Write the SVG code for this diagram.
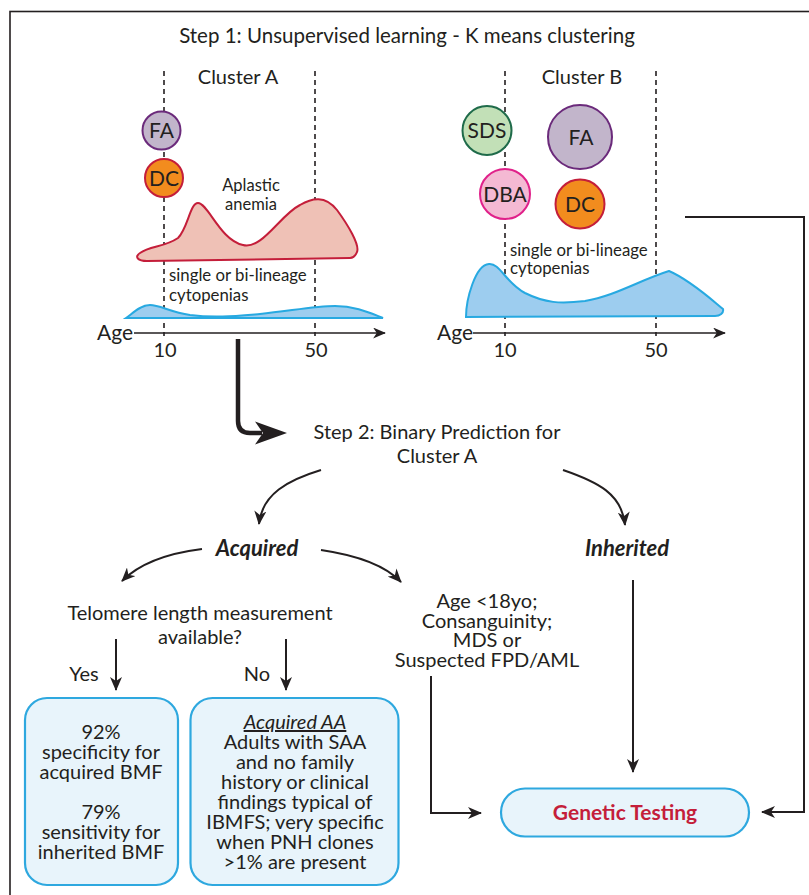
<svg xmlns="http://www.w3.org/2000/svg" width="809" height="895" viewBox="0 0 809 895">
<style>
text{font-family:Lato,"Open Sans","DejaVu Sans",sans-serif;fill:#231f20;text-anchor:middle}
.t20{font-size:20px}
.sm{font-size:16.8px;text-anchor:start}
.bi{font-size:22px;font-weight:bold;font-style:italic}
.dash{stroke:#231f20;stroke-width:1.6;stroke-dasharray:5 4;fill:none}
.axis{stroke:#231f20;stroke-width:1.6;fill:none}
.con{stroke:#231f20;stroke-width:2;fill:none}
.box{fill:#e8f4fb;stroke:#2ea8df;stroke-width:2.2}
.pink{fill:#efc1b6;stroke:#c41e3a;stroke-width:2}
.blue{fill:#9dcdef;stroke:#27a9e1;stroke-width:2}
.fa{fill:#c2b5cb;stroke:#6b2a7b;stroke-width:2}
.dc{fill:#f28c1e;stroke:#c41e3a;stroke-width:2}
.sds{fill:#c2e0b7;stroke:#1f6b4a;stroke-width:2}
.dba{fill:#f4b9d3;stroke:#e0218a;stroke-width:2}
.ct{font-size:21px}
</style>
<defs>
<marker id="ah" markerUnits="userSpaceOnUse" viewBox="0 0 14 12" refX="13" refY="6" markerWidth="14" markerHeight="12" orient="auto">
<path d="M0,0 L14,6 L0,12 L4,6 Z" fill="#231f20"/>
</marker>
<marker id="ax" markerUnits="userSpaceOnUse" viewBox="0 0 14 12" refX="13" refY="6" markerWidth="13" markerHeight="11" orient="auto">
<path d="M0,0 L14,6 L0,12 L4,6 Z" fill="#231f20"/>
</marker>
</defs>
<rect x="10" y="11.5" width="830" height="900" fill="none" stroke="#231f20" stroke-width="1.6"/>
<text x="407" y="43" style="font-size:20.5px">Step 1: Unsupervised learning - K means clustering</text>

<g id="clusterA">
<text class="t20" x="238" y="84">Cluster A</text>
<line class="dash" x1="164" y1="71" x2="164" y2="336"/>
<line class="dash" x1="315" y1="71" x2="315" y2="336"/>
<path class="pink" d="M140,253 C150,246 165,247 178,238 C188,228 190,203 198,203 C208,203 220,240 243,245 C262,250 280,215 300,205 C312,198 325,195 337,210 C348,225 360,245 357,252 C355,257 353,258 350,258 L147,261 C138,261 134,257 140,253 Z"/>
<text x="251" y="191" style="font-size:16.5px">Aplastic</text>
<text x="251" y="210" style="font-size:16.5px">anemia</text>
<text class="sm" x="169" y="281">single or bi-lineage</text>
<text class="sm" x="169" y="301">cytopenias</text>
<path class="blue" d="M126,318 C132,314 140,305 150,305 C160,305 170,312 190,315 C215,318 235,316 260,314 C290,311 315,306 335,306 C355,306 370,313 383,318 Z"/>
<line class="axis" x1="134" y1="333" x2="385" y2="333" marker-end="url(#ax)"/>
<text x="115" y="340" style="font-size:21px">Age</text>
<text class="t20" x="165" y="357">10</text>
<text class="t20" x="316" y="357">50</text>
</g>
<g id="A-FA"><circle class="fa" cx="161.5" cy="130.5" r="19"/><text class="ct" x="161.5" y="138">FA</text></g>
<g id="A-DC"><circle class="dc" cx="164" cy="178" r="19"/><text class="ct" x="164" y="185.5">DC</text></g>

<g id="clusterB">
<text class="t20" x="582" y="84">Cluster B</text>
<line class="dash" x1="505" y1="71" x2="505" y2="336"/>
<line class="dash" x1="656" y1="71" x2="656" y2="336"/>
<text class="sm" x="510" y="256">single or bi-lineage</text>
<text class="sm" x="510" y="274">cytopenias</text>
<path class="blue" d="M466,317 C466,300 475,265 489,264 C500,263 505,282 525,293 C545,303 560,304 585,301 C615,296 640,280 669,271 C690,280 712,300 723,309 C724,313 720,316 715,316 L466,317 Z"/>
<line class="axis" x1="473" y1="333" x2="725" y2="333" marker-end="url(#ax)"/>
<text x="455" y="340" style="font-size:21px">Age</text>
<text class="t20" x="505" y="357">10</text>
<text class="t20" x="656" y="357">50</text>
</g>
<g id="B-SDS"><circle class="sds" cx="487" cy="130.5" r="24.5"/><text class="ct" x="487" y="138">SDS</text></g>
<g id="B-FA"><circle class="fa" cx="580" cy="137" r="32"/><text class="ct" x="581" y="144.5">FA</text></g>
<g id="B-DBA"><circle class="dba" cx="505" cy="194" r="25"/><text class="ct" x="505" y="201.5">DBA</text></g>
<g id="B-DC"><circle class="dc" cx="580" cy="204" r="24.5"/><text class="ct" x="580" y="211.5">DC</text></g>

<g id="step2"><text class="t20" x="437" y="439">Step 2: Binary Prediction for</text><text class="t20" x="437" y="463">Cluster A</text></g>
<g id="acquired"><text class="bi" x="257" y="556">Acquired</text></g>
<g id="inherited"><text class="bi" x="627" y="556">Inherited</text></g>
<g id="telomere"><text class="t20" x="200" y="620">Telomere length measurement</text><text class="t20" x="200" y="644">available?</text></g>
<g id="yes"><text class="t20" x="84" y="681">Yes</text></g>
<g id="no"><text class="t20" x="257" y="681">No</text></g>
<g id="criteria"><text class="t20" x="487" y="608">Age &lt;18yo;</text><text class="t20" x="487" y="628">Consanguinity;</text><text class="t20" x="487" y="647">MDS or</text><text class="t20" x="487" y="667">Suspected FPD/AML</text></g>

<g id="box1"><rect class="box" x="25" y="698" width="153" height="187" rx="22"/>
<text class="t20" x="101" y="739">92%</text><text class="t20" x="101" y="759">specificity for</text><text class="t20" x="101" y="779">acquired BMF</text>
<text class="t20" x="101" y="819">79%</text><text class="t20" x="101" y="839">sensitivity for</text><text class="t20" x="101" y="859">inherited BMF</text></g>
<g id="box2"><rect class="box" x="190.5" y="698" width="208" height="187" rx="22"/>
<text class="t20" x="295" y="729" style="font-style:italic;text-decoration:underline">Acquired AA</text>
<text class="t20" x="295" y="749">Adults with SAA</text><text class="t20" x="295" y="769">and no family</text><text class="t20" x="295" y="789">history or clinical</text><text class="t20" x="295" y="809">findings typical of</text><text class="t20" x="295" y="829">IBMFS; very specific</text><text class="t20" x="295" y="849">when PNH clones</text><text class="t20" x="295" y="869">&gt;1% are present</text></g>
<g id="genetic"><rect class="box" x="501" y="788.5" width="248" height="48" rx="24"/><text x="625" y="819.5" style="font-size:21px;font-weight:bold;fill:#c41e3a">Genetic Testing</text></g>

<g id="connectors">
<path d="M238,339 L238,421 Q238,433 250,433 L262,433" fill="none" stroke="#231f20" stroke-width="4.5"/>
<path d="M287,433 L255,421.5 L263,433 L255,444.5 Z" fill="#231f20"/>
<path class="con" d="M321,470 C288,480 262,494 259,524" marker-end="url(#ah)"/>
<path class="con" d="M563,470 C598,482 622,494 625,525" marker-end="url(#ah)"/>
<path class="con" d="M202,549 C170,553 140,563 122,581" marker-end="url(#ah)"/>
<path class="con" d="M321,550 C355,555 385,565 401,582" marker-end="url(#ah)"/>
<path class="con" d="M116,639 L116,690" marker-end="url(#ah)"/>
<path class="con" d="M286,639 L286,690" marker-end="url(#ah)"/>
<path class="con" d="M431,676 L431,813 L481,813" marker-end="url(#ah)"/>
<path class="con" d="M633,580 L633,772" marker-end="url(#ah)"/>
<path class="con" d="M685,217 L804,217 L804,812 L762,812" marker-end="url(#ah)"/>
</g>
</svg>
